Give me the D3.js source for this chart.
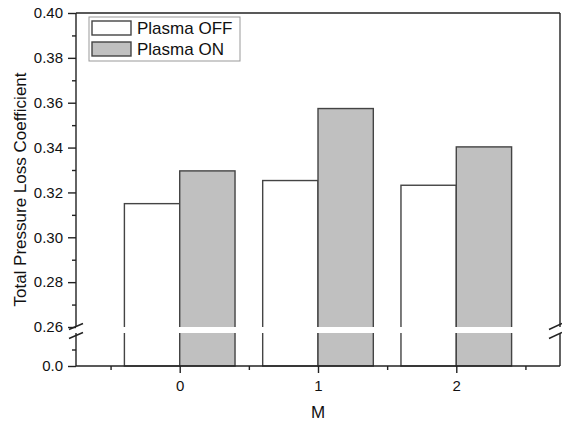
<!DOCTYPE html>
<meta charset="utf-8">
<script src="https://cdn.jsdelivr.net/npm/d3@7"></script>
<style>
  body { margin: 0; background: #fff; }
  text { font-family: "Liberation Sans", Arial, sans-serif; fill: #111; }
</style>
<div id="my_dataviz"></div>
<script>

// data
var categories = [0, 1, 2];
var plasmaOff = [0.315, 0.3253, 0.3232];
var plasmaOn = [0.3296, 0.3574, 0.3403];
var seriesNames = ["Plasma OFF", "Plasma ON"];
var upperMajor = [0.26, 0.28, 0.30, 0.32, 0.34, 0.36, 0.38, 0.40];
var upperMinor = [0.27, 0.29, 0.31, 0.33, 0.35, 0.37, 0.39];
var lowerMajor = [0.0];
var lowerMinor = [0.1];
var xMinor = [-0.5, 0.5, 1.5, 2.5];

var width = 562, height = 423;
var plotLeft = 76, plotRight = 560, plotTop = 13, plotBottom = 366;
var breakTop = 327, breakBot = 333;

var svg = d3.select("#my_dataviz")
  .append("svg")
    .attr("width", width)
    .attr("height", height);

var x = d3.scaleLinear().domain([-0.75, 2.75]).range([plotLeft, plotRight]);
var yTop = d3.scaleLinear().domain([0.26, 0.40]).range([breakTop, plotTop]);
var yBot = d3.scaleLinear().domain([0, 0.2]).range([plotBottom, breakBot]);

var barW = 0.4;
var colors = ["#ffffff", "#c0c0c0"];

// bars
var bars = [];
categories.forEach(function(c, i) {
  bars.push({x0: c - barW, x1: c, v: plasmaOff[i], s: 0});
  bars.push({x0: c, x1: c + barW, v: plasmaOn[i], s: 1});
});

svg.selectAll("bars")
  .data(bars)
  .enter()
  .append("rect")
    .attr("x", d => x(d.x0))
    .attr("y", d => yTop(d.v))
    .attr("width", d => x(d.x1) - x(d.x0))
    .attr("height", d => yBot(0) - yTop(d.v))
    .attr("fill", d => colors[d.s])
    .attr("stroke", "#444")
    .attr("stroke-width", 1.4);

// white band of the axis break
svg.append("rect")
  .attr("x", 0)
  .attr("y", breakTop)
  .attr("width", width)
  .attr("height", breakBot - breakTop)
  .attr("fill", "#fff");

// frame
var frame = svg.append("g").attr("stroke", "#222").attr("stroke-width", 1.4).attr("fill", "none");
frame.append("line").attr("x1", plotLeft).attr("x2", plotRight).attr("y1", plotTop).attr("y2", plotTop);
frame.append("line").attr("x1", plotLeft).attr("x2", plotRight).attr("y1", plotBottom).attr("y2", plotBottom);
[plotLeft, plotRight].forEach(function(px) {
  frame.append("line").attr("x1", px).attr("x2", px).attr("y1", plotTop).attr("y2", breakTop);
  frame.append("line").attr("x1", px).attr("x2", px).attr("y1", breakBot).attr("y2", plotBottom);
});

// break marks
[[plotLeft, 7, 7], [plotRight, 11, 2]].forEach(function(b) {
  [breakTop - 0.5, breakBot + 2.5].forEach(function(yy) {
    frame.append("line")
      .attr("x1", b[0] - b[1]).attr("y1", yy + 3)
      .attr("x2", b[0] + b[2]).attr("y2", yy - 3);
  });
});

function styleAxis(g) {
  g.select(".domain").remove();
  g.selectAll("line").attr("stroke", "#222").attr("stroke-width", 1.4);
  g.selectAll("text").style("font-size", "15px").attr("fill", "#111");
}

// y axes
svg.append("g")
  .attr("transform", "translate(" + plotLeft + ",0)")
  .call(d3.axisLeft(yTop).tickValues(upperMajor).tickFormat(d3.format(".2f")).tickSize(8).tickPadding(5))
  .call(styleAxis);
svg.append("g")
  .attr("transform", "translate(" + plotLeft + ",0)")
  .call(d3.axisLeft(yTop).tickValues(upperMinor).tickFormat("").tickSize(4))
  .call(styleAxis);
svg.append("g")
  .attr("transform", "translate(" + plotLeft + ",0)")
  .call(d3.axisLeft(yBot).tickValues(lowerMajor).tickFormat(d3.format(".1f")).tickSize(8).tickPadding(5))
  .call(styleAxis);
svg.append("g")
  .attr("transform", "translate(" + plotLeft + ",0)")
  .call(d3.axisLeft(yBot).tickValues(lowerMinor).tickFormat("").tickSize(4))
  .call(styleAxis);

// x axis
svg.append("g")
  .attr("transform", "translate(0," + plotBottom + ")")
  .call(d3.axisBottom(x).tickValues(categories).tickFormat(d3.format("d")).tickSize(7).tickPadding(7))
  .call(styleAxis);
svg.append("g")
  .attr("transform", "translate(0," + plotBottom + ")")
  .call(d3.axisBottom(x).tickValues(xMinor).tickFormat("").tickSize(4))
  .call(styleAxis);

// axis titles
svg.append("text")
  .attr("x", x(1))
  .attr("y", 418)
  .attr("text-anchor", "middle")
  .style("font-size", "17px")
  .text("M");

svg.append("text")
  .attr("transform", "translate(26," + ((plotTop + plotBottom) / 2) + ") rotate(-90)")
  .attr("text-anchor", "middle")
  .style("font-size", "17px")
  .text("Total Pressure Loss Coefficient");

// legend
var legend = svg.append("g");
legend.append("rect")
  .attr("x", 89).attr("y", 17).attr("width", 151).attr("height", 44)
  .attr("fill", "#fff").attr("stroke", "#999").attr("stroke-width", 1);
seriesNames.forEach(function(name, i) {
  legend.append("rect")
    .attr("x", 92).attr("y", 21 + i * 21).attr("width", 39).attr("height", 14)
    .attr("fill", colors[i]).attr("stroke", "#444").attr("stroke-width", 1.4);
  legend.append("text")
    .attr("x", 137).attr("y", 34 + i * 21)
    .style("font-size", "17px")
    .text(name);
});

</script>
